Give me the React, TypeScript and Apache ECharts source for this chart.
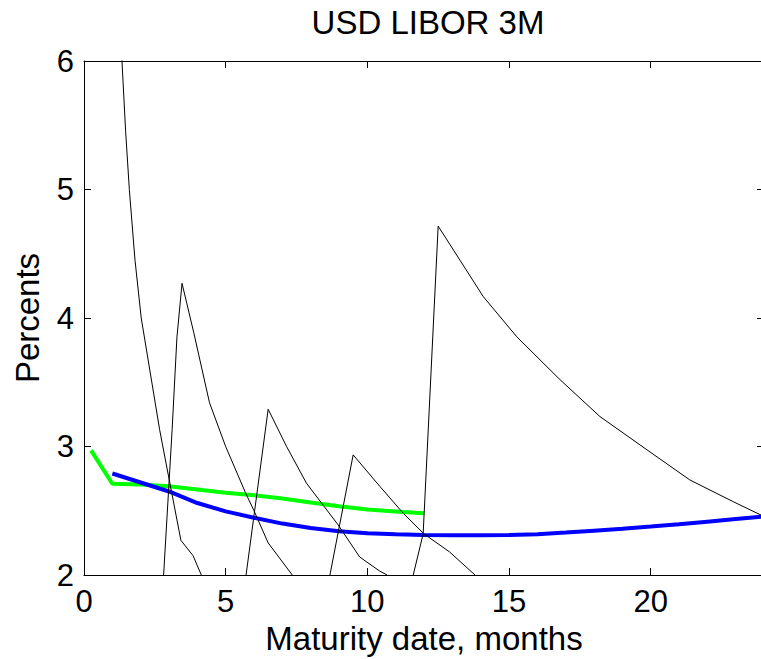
import React, { useEffect, useRef } from "react";
import * as echarts from "echarts";

const titleText = "USD LIBOR 3M";
const xName = "Maturity date, months";
const yName = "Percents";

const xMin = 0;
const xMax = 24;
const xStep = 5;
const yMin = 2;
const yMax = 6;
const yStep = 1;

// green curve (LIBOR fixings)
const greenX = [0.25, 1, 2, 3, 4, 5, 6, 7, 8, 9, 10, 11, 12];
const greenY = [2.97, 2.71, 2.705, 2.69, 2.665, 2.64, 2.62, 2.595, 2.565, 2.535, 2.51, 2.495, 2.48];

// blue curve
const blueX = [1, 2, 3, 4, 5, 6, 7, 8, 9, 10, 11, 12, 13, 14, 15, 16, 17, 18, 19, 20, 21, 22, 23, 24];
const blueY = [2.79, 2.72, 2.65, 2.56, 2.495, 2.445, 2.4, 2.365, 2.34, 2.325, 2.317, 2.312, 2.31, 2.31, 2.312, 2.318, 2.33, 2.345, 2.36, 2.377, 2.395, 2.415, 2.435, 2.455];

// black forward curves
const fwdA = [[1.0, 8.0], [1.34, 6.0], [1.47, 5.45], [1.6, 5.0], [1.8, 4.45], [2.02, 4.0], [2.67, 3.13], [3.0, 2.75], [3.42, 2.27], [3.85, 2.15], [4.14, 2.0], [4.4, 1.85]];
const fwdB = [[2.7, 1.65], [2.81, 2.0], [3.11, 3.13], [3.28, 3.85], [3.46, 4.27], [3.87, 3.89], [4.43, 3.34], [5.0, 3.0], [5.7, 2.64], [6.0, 2.5], [6.5, 2.25], [7.35, 2.0], [7.6, 1.93]];
const fwdC = [[5.6, 1.8], [5.72, 2.0], [6.5, 3.29], [7.15, 3.0], [7.85, 2.715], [8.97, 2.39], [9.73, 2.14], [10.44, 2.03], [10.7, 2.0], [10.9, 1.95]];
const fwdD = [[8.55, 1.85], [8.68, 2.0], [9.5, 2.935], [10.44, 2.69], [11.27, 2.48], [12.0, 2.32], [12.9, 2.18], [13.8, 2.0], [14.0, 1.96]];
const fwdE = [[11.5, 1.85], [11.62, 2.0], [11.97, 2.32], [12.5, 4.715], [13.27, 4.45], [14.09, 4.167], [15.27, 3.855], [16.8, 3.52], [18.21, 3.233], [19.62, 3.013], [21.38, 2.74], [22.92, 2.57], [24.0, 2.455]];

const FONT = "'Liberation Sans', Arial, Helvetica, sans-serif";

export default function App() {
  const ref = useRef<HTMLDivElement>(null);

  useEffect(() => {
    if (!ref.current) return;
    const chart = echarts.init(ref.current, undefined, { renderer: "svg" });

    const tick = { show: true, inside: true, length: 7, lineStyle: { color: "#000", width: 1 } };
    const axisLine = { show: true, onZero: false, lineStyle: { color: "#000", width: 1 } };

    const black = (data: number[][]) => ({
      type: "line",
      data,
      showSymbol: false,
      symbol: "none",
      clip: true,
      lineStyle: { color: "#000", width: 1 },
      z: 3,
    });

    chart.setOption({
      animation: false,
      backgroundColor: "#fff",
      title: {
        text: titleText,
        left: 423,
        textAlign: "center",
        top: 1,
        textStyle: { fontFamily: FONT, fontSize: 33, fontWeight: "normal", color: "#000" },
      },
      grid: { left: 84, top: 61, right: -3, bottom: 84, containLabel: false, outerBoundsMode: "none" },
      xAxis: [
        {
          type: "value",
          position: "bottom",
          min: xMin,
          max: xMax,
          interval: xStep,
          name: xName,
          nameLocation: "middle",
          nameGap: 45,
          nameTextStyle: { fontFamily: FONT, fontSize: 33, color: "#000" },
          axisLine,
          axisTick: tick,
          splitLine: { show: false },
          axisLabel: {
            fontFamily: FONT,
            fontSize: 31,
            color: "#000",
            margin: 11,
            formatter: (v: number) => (v % xStep === 0 ? String(v) : ""),
          },
        },
        {
          type: "value",
          position: "top",
          min: xMin,
          max: xMax,
          interval: xStep,
          axisLine,
          axisTick: tick,
          splitLine: { show: false },
          axisLabel: { show: false },
        },
      ],
      yAxis: [
        {
          type: "value",
          position: "left",
          min: yMin,
          max: yMax,
          interval: yStep,
          name: yName,
          nameLocation: "middle",
          nameGap: 40,
          nameTextStyle: { fontFamily: FONT, fontSize: 33, color: "#000" },
          axisLine,
          axisTick: tick,
          splitLine: { show: false },
          axisLabel: { fontFamily: FONT, fontSize: 31, color: "#000", margin: 10 },
        },
        {
          type: "value",
          position: "right",
          min: yMin,
          max: yMax,
          interval: yStep,
          axisLine,
          axisTick: tick,
          splitLine: { show: false },
          axisLabel: { show: false },
        },
      ],
      series: [
        {
          type: "line",
          data: greenX.map((x, i) => [x, greenY[i]]),
          showSymbol: false,
          symbol: "none",
          clip: true,
          lineStyle: { color: "#00ff00", width: 4 },
          z: 2,
        },
        {
          type: "line",
          data: blueX.map((x, i) => [x, blueY[i]]),
          showSymbol: false,
          symbol: "none",
          clip: true,
          lineStyle: { color: "#0000ff", width: 4 },
          z: 2,
        },
        black(fwdA),
        black(fwdB),
        black(fwdC),
        black(fwdD),
        black(fwdE),
      ],
    });

    return () => chart.dispose();
  }, []);

  return (
    <div
      ref={ref}
      style={{ position: "absolute", left: 0, top: 0, width: 761, height: 659, background: "#fff" }}
    />
  );
}
